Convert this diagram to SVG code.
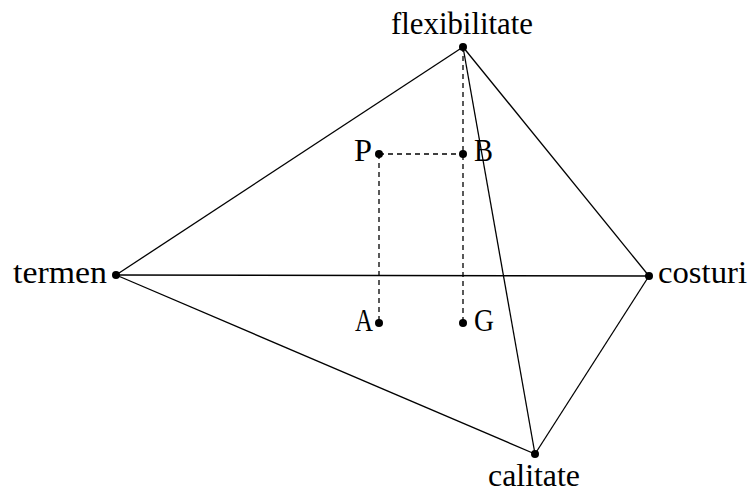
<svg xmlns="http://www.w3.org/2000/svg" width="748" height="492" viewBox="0 0 748 492">
<style>
.e{stroke:#000;stroke-width:1.3;fill:none}
.d{stroke:#000;stroke-width:1.3;fill:none;stroke-dasharray:5 4}
.p{fill:#000}
text{font-family:"Liberation Serif","Times New Roman",serif;font-size:31px;fill:#000}
</style>
<rect width="748" height="492" fill="#fff"/>
<g id="connectors">
<line class="e" x1="463" y1="47" x2="116" y2="275"/>
<line class="e" x1="463" y1="47" x2="649" y2="276"/>
<line class="e" x1="463" y1="47" x2="535" y2="454"/>
<line class="e" x1="116" y1="275" x2="649" y2="276"/>
<line class="e" x1="116" y1="275" x2="535" y2="454"/>
<line class="e" x1="649" y1="276" x2="535" y2="454"/>
<line class="d" x1="463" y1="47" x2="463" y2="323"/>
<line class="d" x1="379" y1="154" x2="463" y2="154"/>
<line class="d" x1="379" y1="154" x2="379" y2="323"/>
</g>
<g id="flexibilitate"><circle class="p" cx="463" cy="47" r="4"/><text x="391" y="34" textLength="142" lengthAdjust="spacingAndGlyphs">flexibilitate</text></g>
<g id="termen"><circle class="p" cx="116" cy="275" r="4"/><text x="13" y="283" textLength="94" lengthAdjust="spacingAndGlyphs">termen</text></g>
<g id="costuri"><circle class="p" cx="649" cy="276" r="4"/><text x="658" y="283" textLength="89" lengthAdjust="spacingAndGlyphs">costuri</text></g>
<g id="calitate"><circle class="p" cx="535" cy="454" r="4"/><text x="488" y="486" textLength="92" lengthAdjust="spacingAndGlyphs">calitate</text></g>
<g id="P"><circle class="p" cx="379" cy="154" r="4"/><text x="354" y="161" textLength="18" lengthAdjust="spacingAndGlyphs">P</text></g>
<g id="B"><circle class="p" cx="463" cy="154" r="4"/><text x="474" y="161" textLength="19" lengthAdjust="spacingAndGlyphs">B</text></g>
<g id="A"><circle class="p" cx="379" cy="323" r="4"/><text x="355" y="331" textLength="18" lengthAdjust="spacingAndGlyphs">A</text></g>
<g id="G"><circle class="p" cx="463" cy="323" r="4"/><text x="474" y="331" textLength="20" lengthAdjust="spacingAndGlyphs">G</text></g>
</svg>
